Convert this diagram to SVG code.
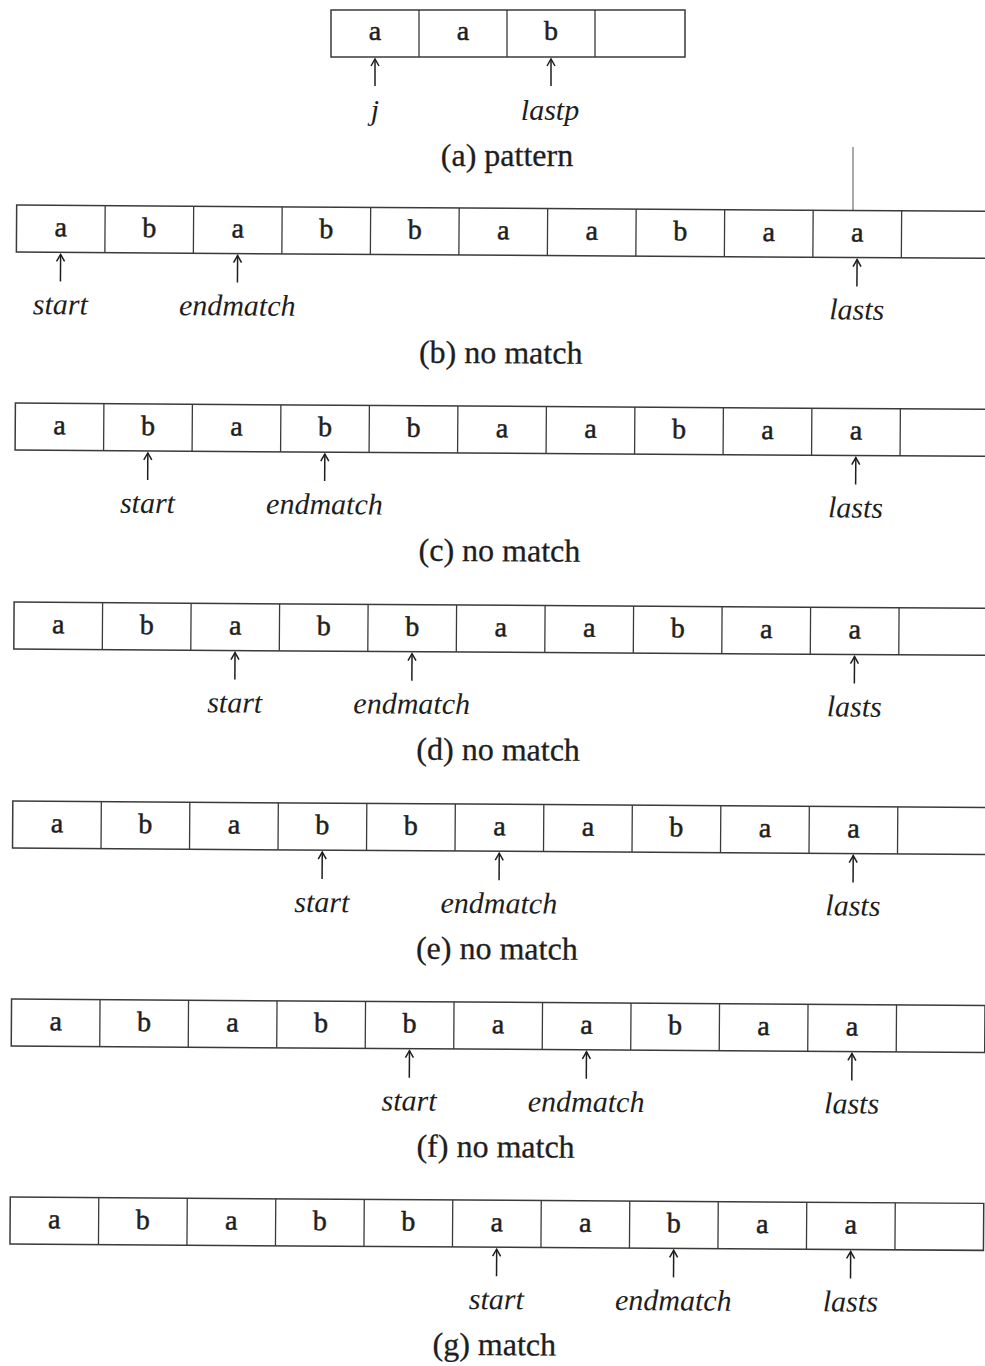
<svg xmlns="http://www.w3.org/2000/svg" width="985" height="1366" viewBox="0 0 985 1366">
<style>
.box{fill:none;stroke:#3a3a3a;stroke-width:1.5}
.div{fill:none;stroke:#3a3a3a;stroke-width:1.3}
.ch{font-family:"Liberation Serif","Times New Roman",serif;font-size:28px;fill:#1e1e1e;stroke:#1e1e1e;stroke-width:0.5;text-anchor:middle}
.lb{font-family:"Liberation Serif","Times New Roman",serif;font-size:30px;font-style:italic;fill:#1e1e1e;text-anchor:middle}
.cap{font-family:"Liberation Serif","Times New Roman",serif;font-size:32px;fill:#1e1e1e;stroke:#1e1e1e;stroke-width:0.3;text-anchor:middle}
.arr{stroke:#1e1e1e;stroke-width:1.5;fill:none;marker-end:url(#ah)}
</style>
<defs>
<marker id="ah" markerUnits="userSpaceOnUse" markerWidth="12" markerHeight="12" refX="0" refY="0" viewBox="-10 -6 12 12" orient="auto">
<path d="M-7,-4 L0,0 L-7,4" fill="none" stroke="#1e1e1e" stroke-width="1.5"/>
</marker>
</defs>
<rect width="985" height="1366" fill="#ffffff"/>

<g id="row-a">
<rect class="box" x="331" y="10" width="354" height="47"/>
<path class="div" d="M419,10V57M507,10V57M595,10V57"/>
<text class="ch" x="375" y="40">a</text>
<text class="ch" x="463" y="40">a</text>
<text class="ch" x="551" y="40">b</text>
<text class="lb" x="375" y="120">j</text>
<text class="lb" x="550" y="120">lastp</text>
<text class="cap" x="507" y="166">(a) pattern</text>
</g>
<line id="stray" x1="853" y1="147" x2="853" y2="210" stroke="#555" stroke-width="1"/>

<g transform="rotate(0.37)">
<g id="row-b">
<rect class="box" x="18" y="205" width="973.5" height="47"/>
<path class="div" d="M106.5,205v47M195,205v47M283.5,205v47M372,205v47M460.5,205v47M549,205v47M637.5,205v47M726,205v47M814.5,205v47M903,205v47"/>
<g class="ch"><text x="62.25" y="236">a</text><text x="150.75" y="236">b</text><text x="239.25" y="236">a</text><text x="327.75" y="236">b</text><text x="416.25" y="236">b</text><text x="504.75" y="236">a</text><text x="593.25" y="236">a</text><text x="681.75" y="236">b</text><text x="770.25" y="236">a</text><text x="858.75" y="236">a</text></g>
<text class="lb" x="62.25" y="314">start</text>
<text class="lb" x="239.25" y="314">endmatch</text>
<text class="lb" x="858.75" y="314">lasts</text>
<text class="cap" x="503" y="360">(b) no match</text>
</g>
<g id="row-c">
<rect class="box" x="18" y="403" width="973.5" height="47"/>
<path class="div" d="M106.5,403v47M195,403v47M283.5,403v47M372,403v47M460.5,403v47M549,403v47M637.5,403v47M726,403v47M814.5,403v47M903,403v47"/>
<g class="ch"><text x="62.25" y="434">a</text><text x="150.75" y="434">b</text><text x="239.25" y="434">a</text><text x="327.75" y="434">b</text><text x="416.25" y="434">b</text><text x="504.75" y="434">a</text><text x="593.25" y="434">a</text><text x="681.75" y="434">b</text><text x="770.25" y="434">a</text><text x="858.75" y="434">a</text></g>
<text class="lb" x="150.75" y="512">start</text>
<text class="lb" x="327.75" y="512">endmatch</text>
<text class="lb" x="858.75" y="512">lasts</text>
<text class="cap" x="503" y="558">(c) no match</text>
</g>
<g id="row-d">
<rect class="box" x="18" y="602" width="973.5" height="47"/>
<path class="div" d="M106.5,602v47M195,602v47M283.5,602v47M372,602v47M460.5,602v47M549,602v47M637.5,602v47M726,602v47M814.5,602v47M903,602v47"/>
<g class="ch"><text x="62.25" y="633">a</text><text x="150.75" y="633">b</text><text x="239.25" y="633">a</text><text x="327.75" y="633">b</text><text x="416.25" y="633">b</text><text x="504.75" y="633">a</text><text x="593.25" y="633">a</text><text x="681.75" y="633">b</text><text x="770.25" y="633">a</text><text x="858.75" y="633">a</text></g>
<text class="lb" x="239.25" y="711">start</text>
<text class="lb" x="416.25" y="711">endmatch</text>
<text class="lb" x="858.75" y="711">lasts</text>
<text class="cap" x="503" y="757">(d) no match</text>
</g>
<g id="row-e">
<rect class="box" x="18" y="801" width="973.5" height="47"/>
<path class="div" d="M106.5,801v47M195,801v47M283.5,801v47M372,801v47M460.5,801v47M549,801v47M637.5,801v47M726,801v47M814.5,801v47M903,801v47"/>
<g class="ch"><text x="62.25" y="832">a</text><text x="150.75" y="832">b</text><text x="239.25" y="832">a</text><text x="327.75" y="832">b</text><text x="416.25" y="832">b</text><text x="504.75" y="832">a</text><text x="593.25" y="832">a</text><text x="681.75" y="832">b</text><text x="770.25" y="832">a</text><text x="858.75" y="832">a</text></g>
<text class="lb" x="327.75" y="910">start</text>
<text class="lb" x="504.75" y="910">endmatch</text>
<text class="lb" x="858.75" y="910">lasts</text>
<text class="cap" x="503" y="956">(e) no match</text>
</g>
<g id="row-f">
<rect class="box" x="18" y="999" width="973.5" height="47"/>
<path class="div" d="M106.5,999v47M195,999v47M283.5,999v47M372,999v47M460.5,999v47M549,999v47M637.5,999v47M726,999v47M814.5,999v47M903,999v47"/>
<g class="ch"><text x="62.25" y="1030">a</text><text x="150.75" y="1030">b</text><text x="239.25" y="1030">a</text><text x="327.75" y="1030">b</text><text x="416.25" y="1030">b</text><text x="504.75" y="1030">a</text><text x="593.25" y="1030">a</text><text x="681.75" y="1030">b</text><text x="770.25" y="1030">a</text><text x="858.75" y="1030">a</text></g>
<text class="lb" x="416.25" y="1108">start</text>
<text class="lb" x="593.25" y="1108">endmatch</text>
<text class="lb" x="858.75" y="1108">lasts</text>
<text class="cap" x="503" y="1154">(f) no match</text>
</g>
<g id="row-g">
<rect class="box" x="18" y="1197" width="973.5" height="47"/>
<path class="div" d="M106.5,1197v47M195,1197v47M283.5,1197v47M372,1197v47M460.5,1197v47M549,1197v47M637.5,1197v47M726,1197v47M814.5,1197v47M903,1197v47"/>
<g class="ch"><text x="62.25" y="1228">a</text><text x="150.75" y="1228">b</text><text x="239.25" y="1228">a</text><text x="327.75" y="1228">b</text><text x="416.25" y="1228">b</text><text x="504.75" y="1228">a</text><text x="593.25" y="1228">a</text><text x="681.75" y="1228">b</text><text x="770.25" y="1228">a</text><text x="858.75" y="1228">a</text></g>
<text class="lb" x="504.75" y="1306">start</text>
<text class="lb" x="681.75" y="1306">endmatch</text>
<text class="lb" x="858.75" y="1306">lasts</text>
<text class="cap" x="503" y="1352">(g) match</text>
</g>
</g>

<g id="connectors">
<line class="arr" x1="375" y1="86" x2="375" y2="59"/>
<line class="arr" x1="551" y1="86" x2="551" y2="59"/>
<g transform="rotate(0.37)">
<line class="arr" x1="62.25" y1="281" x2="62.25" y2="254"/>
<line class="arr" x1="239.25" y1="281" x2="239.25" y2="254"/>
<line class="arr" x1="858.75" y1="281" x2="858.75" y2="254"/>
<line class="arr" x1="150.75" y1="479" x2="150.75" y2="452"/>
<line class="arr" x1="327.75" y1="479" x2="327.75" y2="452"/>
<line class="arr" x1="858.75" y1="479" x2="858.75" y2="452"/>
<line class="arr" x1="239.25" y1="678" x2="239.25" y2="651"/>
<line class="arr" x1="416.25" y1="678" x2="416.25" y2="651"/>
<line class="arr" x1="858.75" y1="678" x2="858.75" y2="651"/>
<line class="arr" x1="327.75" y1="877" x2="327.75" y2="850"/>
<line class="arr" x1="504.75" y1="877" x2="504.75" y2="850"/>
<line class="arr" x1="858.75" y1="877" x2="858.75" y2="850"/>
<line class="arr" x1="416.25" y1="1075" x2="416.25" y2="1048"/>
<line class="arr" x1="593.25" y1="1075" x2="593.25" y2="1048"/>
<line class="arr" x1="858.75" y1="1075" x2="858.75" y2="1048"/>
<line class="arr" x1="504.75" y1="1273" x2="504.75" y2="1246"/>
<line class="arr" x1="681.75" y1="1273" x2="681.75" y2="1246"/>
<line class="arr" x1="858.75" y1="1273" x2="858.75" y2="1246"/>
</g>
</g>
</svg>
